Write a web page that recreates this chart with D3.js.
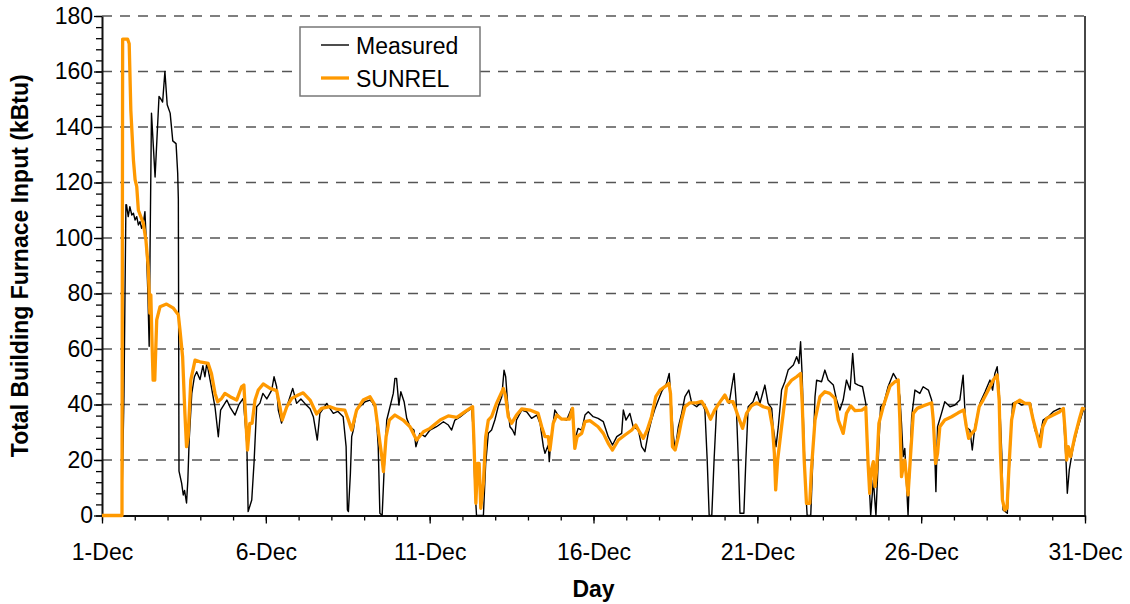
<!DOCTYPE html>
<html>
<head>
<meta charset="utf-8">
<script src="https://cdnjs.cloudflare.com/ajax/libs/d3/7.8.5/d3.min.js"></script>
<style>
  body { margin: 0; background: #fff; }
  .chart text { font-family: "Liberation Sans", Arial, sans-serif; fill: #000; }
  .tick text { font-size: 23px; }
</style>
</head>
<body>
<div class="chart"></div>
<script>
const width = 1130;
const height = 604;

// day (0 = 1-Dec 00:00), kBtu
const measured = [
  [0,0],[0.60,0],[0.67,43],[0.73,112],[0.75,111.9],[0.80,107.7],[0.85,111.3],[0.91,108.3],[0.96,108.9],
  [1.01,106.5],[1.06,107.7],[1.11,104.7],[1.16,105.9],[1.21,103.5],[1.26,105.3],[1.31,109.5],[1.34,101.7],
  [1.40,80],[1.44,61],[1.47,100],[1.51,145],[1.62,122],[1.74,151],[1.80,150],[1.85,149],[1.92,160],
  [1.99,148],[2.08,145],[2.16,135],[2.26,134],[2.31,123.4],[2.33,114],[2.35,16],[2.43,11.7],[2.48,7.4],
  [2.52,9],[2.58,4.5],[2.62,12.8],[2.66,27],[2.74,44],[2.82,50],[2.89,51.8],[2.99,49],[3.08,54],[3.14,50],
  [3.20,55],[3.30,48.8],[3.45,39],[3.55,28.4],[3.62,38],[3.81,41.6],[3.91,39],[4.06,36.2],[4.18,40],
  [4.31,42.2],[4.42,26],[4.46,1.4],[4.57,5.6],[4.64,19],[4.72,39.2],[4.82,40.5],[4.91,44],[5.03,42],
  [5.18,45.2],[5.25,50],[5.33,46.4],[5.38,38],[5.48,33.3],[5.64,39.2],[5.82,45.8],[5.94,40.4],[6.07,42],
  [6.19,40.4],[6.35,38.5],[6.45,35.6],[6.57,27.2],[6.65,36.8],[6.86,40.4],[6.96,38.5],[7.06,36.8],
  [7.20,37.5],[7.36,35.6],[7.45,24.8],[7.49,2],[7.52,1.4],[7.58,15],[7.62,28.4],[7.67,30.8],[7.77,38],
  [7.87,39.2],[8.03,41],[8.18,41.6],[8.28,40.4],[8.36,38],[8.43,24.8],[8.48,0.8],[8.55,0],[8.61,16.4],
  [8.69,34.4],[8.79,39.2],[8.89,44],[8.94,49.4],[8.99,49.4],[9.06,39.8],[9.12,44.6],[9.22,41],[9.30,35],
  [9.40,32],[9.52,30.8],[9.58,24.8],[9.70,29.6],[9.86,28.4],[10.01,30.8],[10.21,32],[10.42,33.8],
  [10.57,32.6],[10.67,30.8],[10.77,34.4],[10.92,35.4],[11.13,37.4],[11.28,38.6],[11.33,30.8],[11.38,10.4],
  [11.43,0],[11.64,0],[11.71,18.8],[11.79,29.6],[11.89,30.8],[11.99,34.4],[12.09,39.2],[12.20,42.8],
  [12.27,52.4],[12.32,50],[12.38,40.4],[12.45,32],[12.53,30.8],[12.60,29],[12.65,34.4],[12.81,38],
  [12.96,37.4],[13.11,35],[13.27,36.2],[13.37,33.2],[13.47,24.8],[13.52,22.4],[13.62,25.4],[13.65,19.4],
  [13.70,27.2],[13.82,38],[13.98,35],[14.18,34.4],[14.33,38.6],[14.43,27.2],[14.53,31.4],[14.64,30.8],
  [14.74,36.2],[14.84,37.4],[14.99,35.6],[15.14,35],[15.30,33.8],[15.45,28.4],[15.58,25.4],[15.71,28.4],
  [15.86,29.6],[15.91,38],[15.99,34.4],[16.11,36.8],[16.21,32],[16.37,30.8],[16.47,24.8],[16.57,23],
  [16.67,29.6],[16.77,34.4],[16.88,38.6],[16.98,41.6],[17.08,44.6],[17.23,47.6],[17.31,51.2],[17.36,42.8],
  [17.43,29.6],[17.49,23.6],[17.59,32],[17.69,36.8],[17.79,42.8],[17.91,45.2],[18.00,40.4],[18.15,39.2],
  [18.30,41],[18.40,38],[18.47,20],[18.53,0],[18.61,0],[18.68,20],[18.76,39.2],[18.91,41.6],[19.01,42.8],
  [19.14,40.4],[19.22,46.4],[19.29,51.2],[19.35,41.6],[19.42,20],[19.47,0.8],[19.59,0.8],[19.65,20],
  [19.72,39.2],[19.87,41],[19.98,44.6],[20.08,40.4],[20.23,47],[20.33,40.4],[20.44,38.6],[20.48,32],
  [20.57,24.8],[20.64,32],[20.74,45.2],[20.84,48.2],[20.94,52.4],[21.10,54.2],[21.20,57.2],[21.27,54.8],
  [21.32,62.6],[21.37,50],[21.42,28.4],[21.47,10.4],[21.52,0],[21.63,0],[21.69,18.8],[21.76,42.8],
  [21.81,48.8],[21.96,48.2],[22.06,52.4],[22.16,48.8],[22.32,47],[22.42,41.6],[22.52,38],[22.62,41.6],
  [22.72,48.8],[22.83,45.2],[22.91,58.4],[22.98,47.6],[23.08,47],[23.21,46.4],[23.31,40.4],[23.38,20],
  [23.46,0],[23.54,12.8],[23.62,0],[23.69,20],[23.76,39.2],[23.86,40.4],[23.99,46.4],[24.15,51.2],
  [24.27,48.8],[24.35,42.8],[24.40,33.2],[24.45,21.2],[24.50,24.2],[24.60,0],[24.66,20],[24.71,35.6],
  [24.81,45.2],[24.96,44],[25.06,46.4],[25.22,45.2],[25.32,41.6],[25.39,32],[25.45,8.6],[25.50,32],
  [25.62,36.8],[25.72,41],[25.88,39.2],[26.03,39.8],[26.18,41.6],[26.28,50.6],[26.36,32],[26.49,30.8],
  [26.56,23.6],[26.64,32],[26.79,40.4],[26.95,44.6],[27.10,48.8],[27.18,45.2],[27.25,51.2],[27.32,53.6],
  [27.38,45.2],[27.46,22.4],[27.50,2],[27.63,0.8],[27.71,22.4],[27.79,40.4],[27.91,41],[28.07,39.8],
  [28.22,40.4],[28.34,40.4],[28.47,30.8],[28.60,27.2],[28.72,34.4],[28.88,35.6],[29.03,37.4],[29.23,38.6],
  [29.34,37.4],[29.42,20],[29.46,8],[29.52,16.4],[29.64,24.8],[29.79,32],[29.95,38],[30,38.5]
];

const sunrel = [
  [0,0],[0.61,0],[0.63,171.7],[0.78,171.7],[0.83,170],[0.88,146],[0.96,128],[1.01,121],[1.06,118.5],
  [1.11,110],[1.26,105.3],[1.34,99.3],[1.41,89.7],[1.44,80],[1.46,72.9],[1.49,79.5],[1.53,60.8],
  [1.56,48.8],[1.61,48.8],[1.67,70.5],[1.77,75.2],[1.97,76.2],[2.18,74.7],[2.33,72.3],[2.38,66.8],
  [2.46,57.2],[2.53,36.8],[2.58,24.8],[2.63,28.4],[2.71,48.8],[2.84,56],[2.99,55.4],[3.24,54.8],
  [3.34,51.2],[3.45,44],[3.53,41],[3.65,42.2],[3.75,44],[3.91,42.8],[4.11,41.6],[4.26,46.4],[4.33,47],
  [4.39,34.4],[4.44,23.6],[4.51,33.2],[4.58,33.2],[4.67,41.6],[4.77,45.2],[4.92,47.4],[5.13,45.8],
  [5.33,45],[5.43,39.2],[5.50,34.4],[5.64,39.2],[5.79,42.2],[5.99,43.4],[6.14,44.2],[6.35,41.6],
  [6.55,36.6],[6.70,38.6],[6.96,39.2],[7.16,38.3],[7.41,38],[7.52,34.4],[7.62,30.8],[7.77,38],[7.97,41.6],
  [8.18,42.8],[8.33,39.8],[8.43,30.8],[8.54,21.2],[8.59,15.8],[8.67,28.4],[8.77,34.4],[8.94,36.2],
  [9.19,34.4],[9.40,32],[9.60,27.2],[9.81,30.2],[10.01,31.4],[10.32,34.4],[10.57,35.9],[10.83,35.4],
  [11.08,37.4],[11.31,39.2],[11.35,27.2],[11.41,4.4],[11.46,18.8],[11.51,18.8],[11.56,2.6],[11.64,11.6],
  [11.71,28.4],[11.79,34.4],[11.89,35.6],[12.04,40.4],[12.25,45.8],[12.32,42.8],[12.40,35.6],[12.50,33.2],
  [12.65,36.2],[12.81,38.4],[13.06,38],[13.31,36.8],[13.42,32],[13.52,28.4],[13.62,28.4],[13.67,23.6],
  [13.77,33.2],[13.88,36.2],[14.03,34.7],[14.26,34.7],[14.36,38.6],[14.43,24.2],[14.50,28.4],[14.64,29.6],
  [14.74,33.8],[14.89,34.2],[15.14,32],[15.30,29.6],[15.45,26],[15.58,23.6],[15.76,27.2],[15.96,29],
  [16.17,30.8],[16.29,32.6],[16.40,30.2],[16.52,27.8],[16.64,30.8],[16.77,35.6],[16.90,42.8],[17.03,45.2],
  [17.18,46.4],[17.30,47.6],[17.35,44],[17.41,24.8],[17.49,23.6],[17.59,28.4],[17.69,34.4],[17.79,39.2],
  [17.94,40.6],[18.14,40.6],[18.30,41.1],[18.43,38.6],[18.57,34.7],[18.70,38],[18.83,40.4],[19.01,43.4],
  [19.11,41],[19.26,41],[19.42,35.6],[19.55,31.4],[19.67,36.8],[19.82,39.5],[19.98,40.6],[20.18,39.2],
  [20.36,38.6],[20.46,32],[20.52,22.4],[20.56,9.2],[20.62,20],[20.74,32],[20.89,46.4],[21.05,48.8],
  [21.20,50],[21.32,51.2],[21.37,40.4],[21.43,20],[21.50,4.4],[21.60,4.4],[21.65,16.4],[21.76,34.4],
  [21.91,42.8],[22.06,44.6],[22.21,44],[22.37,42.2],[22.47,34.4],[22.62,29.6],[22.72,36.8],[22.85,39.5],
  [22.98,37.8],[23.19,38],[23.31,39],[23.38,18.8],[23.43,8],[23.48,16.4],[23.54,19.4],[23.59,10.4],
  [23.64,16.4],[23.71,33.2],[23.84,39.2],[23.94,42.8],[24.05,46.7],[24.20,48.2],[24.30,48.8],[24.35,34.4],
  [24.40,14],[24.45,17.6],[24.50,20],[24.60,7.4],[24.68,22.4],[24.76,36.8],[24.88,38.6],[25.06,39.5],
  [25.22,40.2],[25.32,40.6],[25.37,34.4],[25.44,18.8],[25.50,22.4],[25.57,32],[25.72,34.4],[25.93,35.6],
  [26.13,37],[26.30,38],[26.38,32],[26.45,27.8],[26.54,29.6],[26.64,30.8],[26.77,39.2],[26.89,41.6],
  [27.05,45.2],[27.20,48.8],[27.32,50.6],[27.38,41.6],[27.42,22.4],[27.48,5.6],[27.55,2],[27.62,2.6],
  [27.68,17.6],[27.76,34.4],[27.86,40.4],[28.01,41.6],[28.17,40.4],[28.31,40.4],[28.42,34.4],[28.54,29],
  [28.63,24.8],[28.71,32],[28.83,35],[29.03,36.2],[29.23,37.4],[29.34,38.6],[29.39,30.8],[29.44,20],
  [29.49,24.8],[29.56,21.2],[29.69,28.4],[29.82,34.4],[29.92,38.6],[30,38.3]
];

const dayLabels = ["1-Dec", "6-Dec", "11-Dec", "16-Dec", "21-Dec", "26-Dec", "31-Dec"];
const yMajor = [0, 20, 40, 60, 80, 100, 120, 140, 160, 180];
const seriesNames = ["Measured", "SUNREL"];
const seriesColors = ["#000000", "#ff9900"];

const margin = { top: 16, right: 45, bottom: 88.5, left: 102 };
const innerWidth = width - margin.left - margin.right;
const innerHeight = height - margin.top - margin.bottom;

const x = d3.scaleLinear().domain([0, 30]).range([0, innerWidth]);
const y = d3.scaleLinear().domain([0, 180]).range([innerHeight, 0]);

const svg = d3.select(".chart")
  .append("svg")
  .attr("width", width)
  .attr("height", height)
  .append("g")
  .attr("transform", `translate(${margin.left},${margin.top})`);

// dashed grid
svg.append("g")
  .selectAll("line")
  .data(yMajor.filter(d => d > 0))
  .enter()
  .append("line")
  .attr("x1", 0)
  .attr("x2", innerWidth)
  .attr("y1", d => y(d))
  .attr("y2", d => y(d))
  .attr("stroke", "#555")
  .attr("stroke-width", 1.3)
  .attr("stroke-dasharray", "10,8");

// right border
svg.append("line")
  .attr("x1", innerWidth).attr("x2", innerWidth)
  .attr("y1", 0).attr("y2", innerHeight)
  .attr("stroke", "#333")
  .attr("stroke-width", 1.8);

// minor ticks (no labels)
svg.append("g")
  .attr("transform", `translate(0,${innerHeight})`)
  .call(d3.axisBottom(x).tickValues(d3.range(0, 31)).tickSize(5))
  .call(g => g.select(".domain").remove())
  .call(g => g.selectAll("text").remove())
  .selectAll("line").attr("stroke-width", 1.3);

svg.append("g")
  .call(d3.axisLeft(y).tickValues(d3.range(0, 181, 4)).tickSize(6))
  .call(g => g.select(".domain").remove())
  .call(g => g.selectAll("text").remove())
  .selectAll("line").attr("stroke-width", 1.3);

const xAxis = d3.axisBottom(x)
  .tickValues(d3.range(0, 31, 5))
  .tickSize(8)
  .tickSizeOuter(0)
  .tickFormat((d, i) => dayLabels[i]);

const yAxis = d3.axisLeft(y)
  .tickValues(yMajor)
  .tickSize(8)
  .tickSizeOuter(0)
  .tickFormat(d3.format("d"));

const gx = svg.append("g")
  .attr("transform", `translate(0,${innerHeight})`)
  .call(xAxis);
gx.selectAll(".tick text").attr("y", 28);

const gy = svg.append("g").call(yAxis);
gy.selectAll(".tick text").attr("x", -9);

[gx, gy].forEach(g => {
  g.select(".domain").attr("stroke", "#111").attr("stroke-width", 2);
  g.selectAll(".tick line").attr("stroke-width", 1.3);
});

// series
const line = d3.line()
  .x(d => x(d[0]))
  .y(d => y(d[1]));

svg.append("path")
  .datum(measured)
  .attr("fill", "none")
  .attr("stroke", seriesColors[0])
  .attr("stroke-width", 1.4)
  .attr("stroke-linejoin", "round")
  .attr("d", line);

svg.append("path")
  .datum(sunrel)
  .attr("fill", "none")
  .attr("stroke", seriesColors[1])
  .attr("stroke-width", 3.3)
  .attr("stroke-linejoin", "round")
  .attr("d", line);

// axis titles
svg.append("text")
  .attr("transform", "rotate(-90)")
  .attr("x", -innerHeight / 2)
  .attr("y", -margin.left + 28)
  .attr("text-anchor", "middle")
  .style("font-size", "23px")
  .style("font-weight", "bold")
  .text("Total Building Furnace Input (kBtu)");

svg.append("text")
  .attr("x", innerWidth / 2)
  .attr("y", innerHeight + 81)
  .attr("text-anchor", "middle")
  .style("font-size", "23px")
  .style("font-weight", "bold")
  .text("Day");

// legend
const legend = svg.append("g")
  .attr("transform", `translate(${300 - margin.left},${27 - margin.top})`);

legend.append("rect")
  .attr("width", 180)
  .attr("height", 69)
  .attr("fill", "#fff")
  .attr("stroke", "#777")
  .attr("stroke-width", 1.5);

const item = legend.selectAll(".item")
  .data(seriesNames)
  .enter()
  .append("g")
  .attr("transform", (d, i) => `translate(0,${18 + i * 33})`);

item.append("line")
  .attr("x1", 21).attr("x2", 49)
  .attr("stroke", (d, i) => seriesColors[i])
  .attr("stroke-width", (d, i) => i ? 3.3 : 1.4);

item.append("text")
  .attr("x", 56)
  .attr("y", 9)
  .style("font-size", "23px")
  .text(d => d);
</script>
</body>
</html>
